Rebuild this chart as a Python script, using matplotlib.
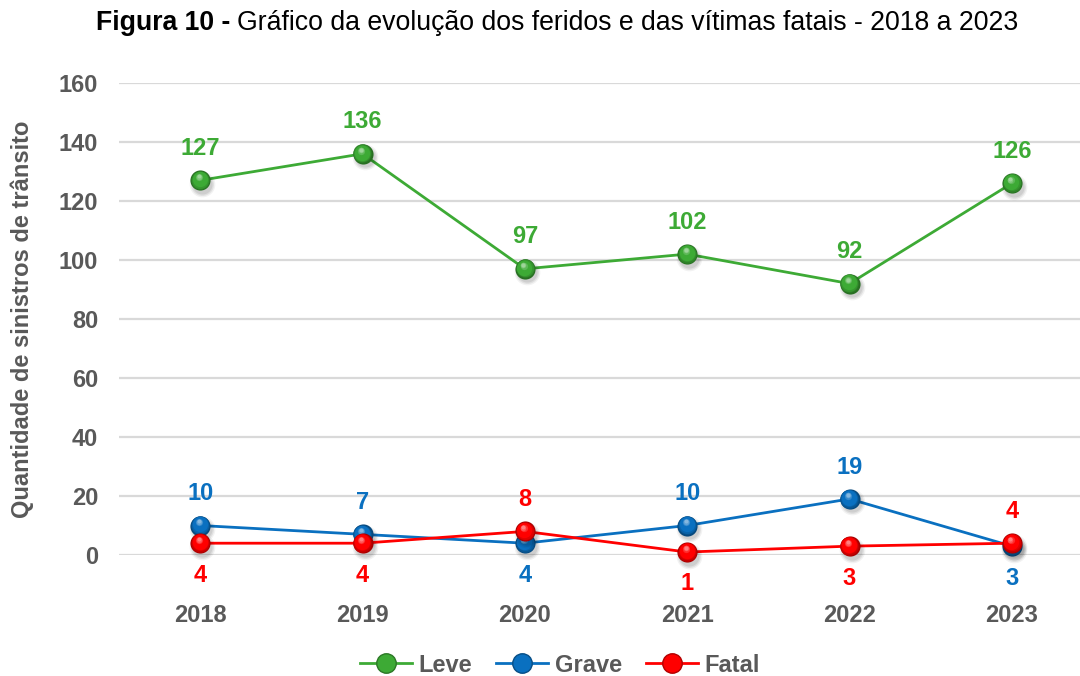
import matplotlib
matplotlib.use("Agg")
import matplotlib.pyplot as plt
from matplotlib import font_manager as fm
from matplotlib.lines import Line2D
from matplotlib.transforms import offset_copy
import matplotlib.colors as mcolors
import numpy as np

# avoid picking the "Narrow" variant of Liberation Sans
fm.fontManager.ttflist = [f for f in fm.fontManager.ttflist if 'Narrow' not in f.fname
                          and 'Narrow' not in f.name]
try:
    fm._findfont_cached.cache_clear()
except Exception:
    pass
plt.rcParams['font.family'] = ['Liberation Sans', 'DejaVu Sans']

years = ["2018", "2019", "2020", "2021", "2022", "2023"]
leve = [127, 136, 97, 102, 92, 126]
grave = [10, 7, 4, 10, 19, 3]
fatal = [4, 4, 8, 1, 3, 4]
series_names = ["Leve", "Grave", "Fatal"]
yticks = [0, 20, 40, 60, 80, 100, 120, 140, 160]

colors = {"Leve": "#3DAA35", "Grave": "#0A70C0", "Fatal": "#FF0000"}
label_side = {
    "Leve": [1, 1, 1, 1, 1, 1],
    "Grave": [1, 1, -1, 1, 1, -1],
    "Fatal": [-1, -1, 1, -1, -1, 1],
}
gray = "#595959"
FS = 17

fig = plt.figure(figsize=(10.8, 6.76), dpi=100)
W, H = 1080, 676
ax = fig.add_axes([119 / W, 1 - 555 / H, (1080 - 119) / W, (555 - 83) / H])
x = np.arange(len(years))
ax.set_xlim(-0.5, 5 + (1080 - 1012) / 162)
ax.set_ylim(0, 160)
ax.set_yticks(yticks)
ax.set_xticks(x)
ax.set_xticklabels(years)
for s in ax.spines.values():
    s.set_visible(False)
ax.grid(axis='y', color='#D9D9D9', linewidth=1.6)
ax.set_axisbelow(True)
ax.tick_params(axis='both', length=0, labelsize=FS, labelcolor=gray)
ax.tick_params(axis='x', pad=35)
ax.tick_params(axis='y', pad=15)
for lab in ax.get_xticklabels() + ax.get_yticklabels():
    lab.set_fontweight('bold')

ax.set_ylabel("Quantidade de sinistros de trânsito", fontsize=FS, fontweight='bold',
              color=gray, va='center')
ax.yaxis.set_label_coords((22 - 119) / 961, (555 - 319) / 472)


def sphere(ax, xs, ys, color, size=14.5, z=5):
    base = np.array(mcolors.to_rgb(color))
    dark = base * 0.65
    for a, ds in [(0.05, 4), (0.07, 2), (0.08, 0)]:
        tr = offset_copy(ax.transData, fig=fig, x=1.5, y=-2.5, units='points')
        ax.plot(xs, ys, 'o', ms=size + ds, color=(0, 0, 0, a), mec='none',
                transform=tr, zorder=z, clip_on=False)
    ax.plot(xs, ys, 'o', ms=size, color=dark, mec='none', zorder=z + 0.1, clip_on=False)
    n = 10
    light = base * 0.5 + np.ones(3) * 0.5
    for i in range(1, n + 1):
        t = i / n
        s = size * (1 - 0.8 * t)
        if t < 0.3:
            c = dark + (base - dark) * (t / 0.3)
        elif t < 0.7:
            c = base
        else:
            u = (t - 0.7) / 0.3
            c = base * (1 - u) + light * u
        c = np.clip(c, 0, 1)
        off = size * 0.2 * t
        tr = offset_copy(ax.transData, fig=fig, x=-off * 0.4, y=off, units='points')
        ax.plot(xs, ys, 'o', ms=s, color=c, mec='none', transform=tr,
                zorder=z + 0.1 + 0.01 * i, clip_on=False)


series = {"Leve": leve, "Grave": grave, "Fatal": fatal}
zb = {"Leve": 3, "Grave": 4, "Fatal": 6}
for name in series_names:
    vals = series[name]
    c = colors[name]
    ax.plot(x, vals, '-', color=c, lw=2, zorder=zb[name], clip_on=False)
    sphere(ax, x, vals, c, z=zb[name] + 0.2)
    for xi, v, side in zip(x, vals, label_side[name]):
        ax.annotate(str(v), (xi, v), xytext=(0, 23 * side), textcoords='offset points',
                    ha='center', va='center', fontsize=FS, fontweight='bold',
                    color=c, zorder=10, annotation_clip=False)

handles = [Line2D([0], [0], color=colors[n], lw=2, marker='o', ms=14,
                  mfc=colors[n], mec=np.array(mcolors.to_rgb(colors[n])) * 0.7, mew=1)
           for n in series_names]
leg = fig.legend(handles, series_names, loc='center', bbox_to_anchor=(560 / W, 1 - 665 / H),
                 ncol=3, frameon=False, handlelength=2.2, columnspacing=1.0,
                 handletextpad=0.3,
                 prop={'size': FS, 'weight': 'bold'})
for t in leg.get_texts():
    t.set_color(gray)

fig.canvas.draw()
r = fig.canvas.get_renderer()
t1 = fig.text(0, 1 - 23 / H, "Figura 10 - ", ha='left', va='center', fontsize=19.2,
              fontweight='bold', color='black')
t2 = fig.text(0, 1 - 23 / H, "Gráfico da evolução dos feridos e das vítimas fatais - 2018 a 2023",
              ha='left', va='center', fontsize=19.2, color='black')
w1 = t1.get_window_extent(r).width
w2 = t2.get_window_extent(r).width
x0 = 557 - (w1 + w2) / 2
t1.set_x(x0 / W)
t2.set_x((x0 + w1) / W)

fig.savefig("out.png", dpi=100, facecolor='white')
